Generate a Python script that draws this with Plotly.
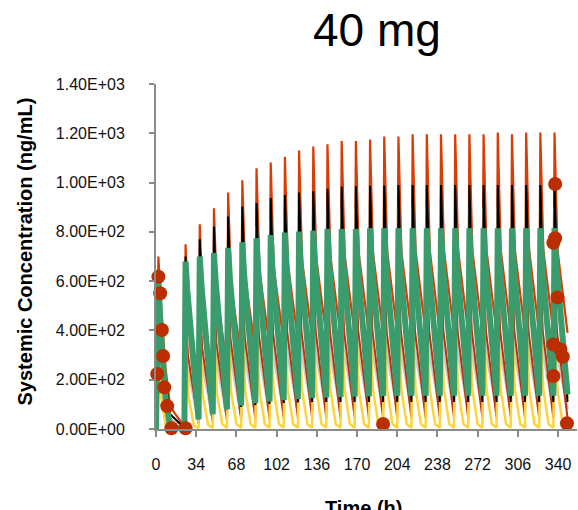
import plotly.graph_objects as go

# ---------------- data ----------------
DOSE_TIMES = [0, 24, 36, 48, 60, 72, 84, 96, 108, 120, 132, 144, 156, 168,
              180, 192, 204, 216, 228, 240, 252, 264, 276, 288, 300, 312, 324, 336]
END_TIME = 348

FIRST_T = [0, 1, 2, 4, 8, 12, 24]

RED_FIRST = [0, 450, 700, 520, 250, 90, 10]
RED_PEAK = [750, 831, 896, 960, 1009, 1058, 1081, 1105, 1130, 1146,
            1155, 1169, 1169, 1175, 1187, 1187, 1196, 1196, 1196, 1196,
            1196, 1196, 1203, 1196, 1203, 1203, 1203]
RED_MID = [430, 490, 540, 580, 612, 640, 656, 670, 684, 694,
           700, 708, 710, 714, 720, 720, 725, 725, 725, 725,
           725, 725, 728, 725, 728, 728, 728]
RED_TROUGH = [150, 215, 260, 295, 320, 340, 352, 362, 370, 376,
              380, 383, 386, 388, 389, 390, 390, 390, 390, 390,
              390, 390, 390, 390, 390, 390, 390]

BLACK_FIRST = [0, 380, 640, 470, 200, 60, 5]
BLACK_PEAK = [700, 770, 822, 862, 903, 917, 937, 950, 960, 965,
              975, 983, 985, 987, 988, 990, 990, 990, 990, 990,
              990, 990, 990, 990, 990, 990, 990]
BLACK_MID = [480, 530, 565, 590, 615, 625, 638, 646, 652, 655,
             662, 667, 668, 670, 671, 672, 672, 672, 672, 672,
             672, 672, 672, 672, 672, 672, 672]
BLACK_TROUGH = [40, 65, 80, 90, 97, 102, 106, 108, 110, 110,
                110, 110, 110, 110, 110, 110, 110, 110, 110, 110,
                110, 110, 110, 110, 110, 110, 110]

TAN_FIRST = [0, 330, 580, 420, 170, 40, 3]
TAN_PEAK = [620, 680, 730, 770, 800, 825, 845, 860, 870, 878,
            885, 890, 893, 895, 897, 900, 900, 900, 900, 900,
            900, 900, 900, 900, 900, 900, 900]
TAN_MID = [420, 460, 495, 520, 540, 556, 570, 580, 587, 592,
           597, 600, 602, 604, 605, 606, 606, 606, 606, 606,
           606, 606, 606, 606, 606, 606, 606]
TAN_TROUGH = [30, 60, 80, 95, 105, 112, 118, 122, 125, 125,
              125, 125, 125, 125, 125, 125, 125, 125, 125, 125,
              125, 125, 125, 125, 125, 125, 125]

GREEN_FIRST = [0, 240, 612, 400, 130, 5, 0]
GREEN_PEAK = [680, 700, 714, 735, 758, 774, 787, 797, 801, 805,
              812, 812, 812, 815, 815, 815, 815, 815, 815, 815,
              815, 815, 815, 815, 815, 815, 815]
GREEN_MID = [560, 580, 595, 610, 628, 640, 650, 657, 660, 664,
             668, 668, 668, 670, 670, 670, 670, 670, 670, 670,
             670, 670, 670, 670, 670, 670, 670]
GREEN_TROUGH = [40, 60, 80, 95, 105, 112, 118, 122, 126, 128,
                130, 132, 133, 134, 135, 135, 135, 135, 135, 135,
                135, 135, 135, 135, 135, 135, 140]

DARKRED_FIRST = [0, 280, 520, 340, 120, 25, 2]
DARKRED_PEAK = [520, 570, 605, 630, 650, 662, 672, 680, 685, 690,
                690, 690, 690, 690, 690, 690, 690, 690, 690, 690,
                690, 690, 690, 690, 690, 690, 690]
DARKRED_MID = [300, 330, 350, 365, 375, 382, 388, 392, 395, 398,
               398, 398, 398, 398, 398, 398, 398, 398, 398, 398,
               398, 398, 398, 398, 398, 398, 398]
DARKRED_TROUGH = [20, 30, 35, 38, 40, 42, 43, 44, 45, 45,
                  45, 45, 45, 45, 45, 45, 45, 45, 45, 45,
                  45, 45, 45, 45, 45, 45, 45]

YELLOW_FIRST = [0, 150, 330, 140, 20, 3, 0]
YELLOW_PEAK = [380, 400, 415, 425, 432, 438, 442, 445, 447, 449,
               450, 450, 450, 450, 450, 450, 450, 450, 450, 450,
               450, 450, 450, 450, 450, 450, 450]
YELLOW_MID = [130, 140, 145, 150, 152, 155, 157, 158, 160, 160,
              160, 160, 160, 160, 160, 160, 160, 160, 160, 160,
              160, 160, 160, 160, 160, 160, 160]
YELLOW_LOW = [15, 18, 20, 20, 20, 20, 20, 20, 20, 20,
              20, 20, 20, 20, 20, 20, 20, 20, 20, 20,
              20, 20, 20, 20, 20, 20, 20]
YELLOW_TROUGH = [3, 4, 5, 5, 5, 5, 5, 5, 5, 5,
                 5, 5, 5, 5, 5, 5, 5, 5, 5, 5,
                 5, 5, 5, 5, 5, 5, 5]

GRAY_FIRST = [0, 220, 430, 280, 100, 20, 1]
GRAY_PEAK = [450, 480, 500, 515, 525, 535, 540, 545, 548, 550,
             550, 550, 550, 550, 550, 550, 550, 550, 550, 550,
             550, 550, 550, 550, 550, 550, 550]
GRAY_MID = [250, 270, 285, 295, 302, 308, 312, 315, 317, 318,
            318, 318, 318, 318, 318, 318, 318, 318, 318, 318,
            318, 318, 318, 318, 318, 318, 318]
GRAY_TROUGH = [25, 40, 50, 58, 64, 68, 72, 75, 77, 78,
               80, 80, 80, 80, 80, 80, 80, 80, 80, 80,
               80, 80, 80, 80, 80, 80, 80]

OBS_T = [1, 2, 3.5, 5, 6, 7, 9.5, 13, 25, 192,
         337.5, 337.5, 336, 339.5, 336, 342, 344, 336, 347.5]
OBS_C = [223, 618, 551, 402, 296, 169, 93, 3, 3, 20,
         994, 774, 756, 534, 343, 323, 293, 215, 23]

X_TICKS = [0, 34, 68, 102, 136, 170, 204, 238, 272, 306, 340]
Y_TICKS = [0, 200, 400, 600, 800, 1000, 1200, 1400]
Y_TICK_TEXT = ["0.00E+00", "2.00E+02", "4.00E+02", "6.00E+02",
               "8.00E+02", "1.00E+03", "1.20E+03", "1.40E+03"]


def profile(first, levels, offsets):
    """Concatenate the single-dose profile and the repeated-dose cycles."""
    xs = list(FIRST_T[:-1])
    ys = list(first[:-1])
    prev = first[-1]
    for i, d in enumerate(DOSE_TIMES[1:]):
        xs.append(d)
        ys.append(prev)
        for off, lv in zip(offsets, levels[:-1]):
            xs.append(d + off)
            ys.append(lv[i])
        prev = levels[-1][i]
    xs.append(END_TIME)
    ys.append(prev)
    return xs, ys


FONT = "Liberation Sans, Arial, sans-serif"

series = [
    (GRAY_FIRST, [GRAY_PEAK, GRAY_MID, GRAY_TROUGH], [1, 3], "#C8C8C8", 3),
    (DARKRED_FIRST, [DARKRED_PEAK, DARKRED_MID, DARKRED_TROUGH], [1, 3], "#C0300A", 2),
    (YELLOW_FIRST, [YELLOW_PEAK, YELLOW_MID, YELLOW_LOW, YELLOW_TROUGH], [1, 3.5, 8], "#FFD43B", 2.5),
    (RED_FIRST, [RED_PEAK, RED_MID, RED_TROUGH], [1, 3.5], "#D93D05", 2.2),
    (TAN_FIRST, [TAN_PEAK, TAN_MID, TAN_TROUGH], [1, 3], "#D8C29E", 3),
    (BLACK_FIRST, [BLACK_PEAK, BLACK_MID, BLACK_TROUGH], [1, 3], "#000000", 2),
    (GREEN_FIRST, [GREEN_PEAK, GREEN_MID, GREEN_TROUGH], [1, 2.5], "#3A9C6C", 6),
]

fig = go.Figure()
for first, levels, offs, color, w in series:
    xs, ys = profile(first, levels, offs)
    fig.add_trace(go.Scatter(x=xs, y=ys, mode="lines",
                             line=dict(color=color, width=w),
                             hoverinfo="skip", showlegend=False))

fig.add_trace(go.Scatter(x=OBS_T, y=OBS_C, mode="markers",
                         marker=dict(color="#BA2E00", size=14),
                         cliponaxis=False, showlegend=False))

axis_common = dict(showline=True, linecolor="#8A8A8A", linewidth=2,
                   ticks="outside", tickcolor="#8A8A8A", tickwidth=2,
                   showgrid=False, zeroline=False,
                   tickfont=dict(family=FONT, size=16, color="#111111"))

fig.update_layout(
    width=578, height=510,
    margin=dict(l=156, r=1, t=84, b=81),
    paper_bgcolor="white", plot_bgcolor="white",
    showlegend=False,
    xaxis=dict(range=[0, 356], tickmode="array", tickvals=X_TICKS,
               ticklen=6, ticklabelstandoff=14, **axis_common),
    yaxis=dict(range=[0, 1400], tickmode="array", tickvals=Y_TICKS,
               ticktext=Y_TICK_TEXT, ticklen=5, ticklabelstandoff=21,
               **axis_common),
    annotations=[
        dict(text="40 mg", xref="paper", yref="paper", x=0.526, y=1.157,
             xanchor="center", yanchor="middle", showarrow=False,
             font=dict(family=FONT, size=46, color="#000000")),
        dict(text="<b>Systemic Concentration (ng/mL)</b>", xref="paper", yref="paper",
             x=-0.3088, y=0.5145, xanchor="center", yanchor="middle",
             textangle=-90, showarrow=False,
             font=dict(family=FONT, size=20, color="#000000")),
        dict(text="<b>Time (h)</b>", xref="paper", yref="paper",
             x=0.494, y=-0.229, xanchor="center", yanchor="middle",
             showarrow=False, font=dict(family=FONT, size=20, color="#000000")),
    ],
)

fig.write_html("out.html")
